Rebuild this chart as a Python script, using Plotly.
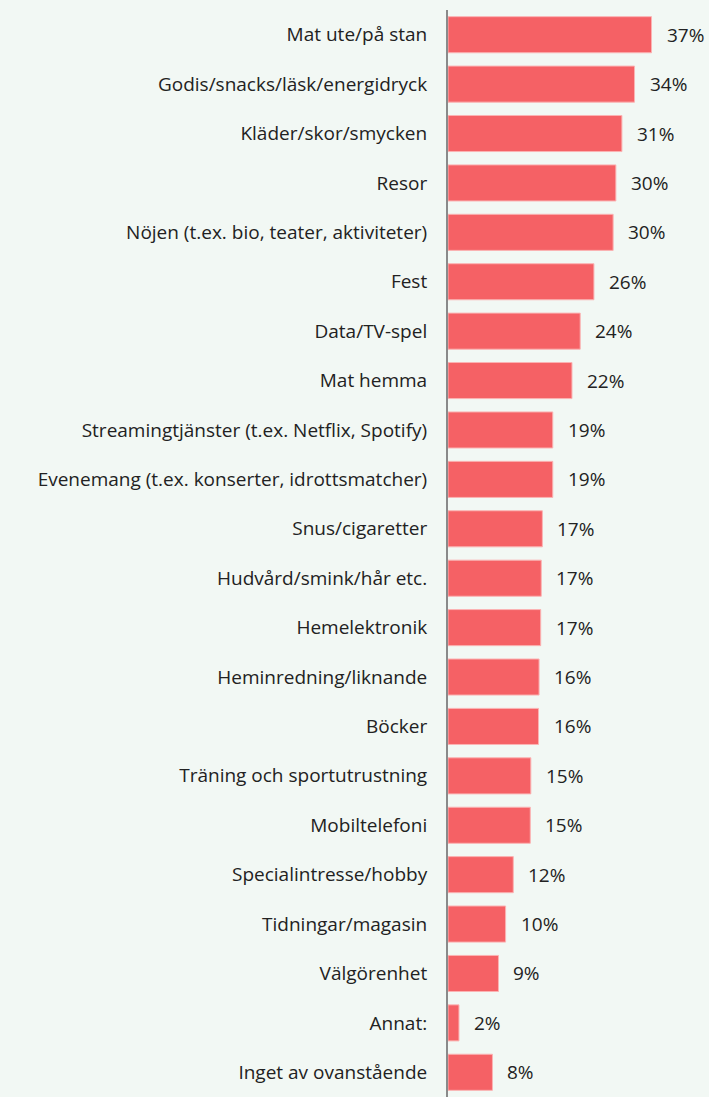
import plotly.graph_objects as go

categories = ["Mat ute/på stan", "Godis/snacks/läsk/energidryck", "Kläder/skor/smycken", "Resor",
              "Nöjen (t.ex. bio, teater, aktiviteter)", "Fest", "Data/TV-spel", "Mat hemma",
              "Streamingtjänster (t.ex. Netflix, Spotify)", "Evenemang (t.ex. konserter, idrottsmatcher)",
              "Snus/cigaretter", "Hudvård/smink/hår etc.", "Hemelektronik", "Heminredning/liknande",
              "Böcker", "Träning och sportutrustning", "Mobiltelefoni", "Specialintresse/hobby",
              "Tidningar/magasin", "Välgörenhet", "Annat:", "Inget av ovanstående"]
values = [37, 34, 31, 30, 30, 26, 24, 22, 19, 19, 17, 17, 17, 16, 16, 15, 15, 12, 10, 9, 2, 8]
# exact bar lengths (labels are rounded)
lengths = [37.1, 34.0, 31.7, 30.6, 30.1, 26.6, 24.1, 22.6, 19.1, 19.1, 17.2, 17.0, 16.9, 16.6, 16.5,
           15.1, 15.0, 11.9, 10.5, 9.2, 2.0, 8.1]

fig = go.Figure()
fig.add_trace(go.Bar(x=lengths, y=categories, orientation='h',
                     marker=dict(color='#f56165', line=dict(color='#fbb3b3', width=1))))

for c, v, l in zip(categories, values, lengths):
    fig.add_annotation(x=l, y=c, text=f"{v}%", showarrow=False, xanchor='left', xshift=13,
                       font=dict(size=19, color='#222222'))

fig.update_layout(width=709, height=1097, margin=dict(l=448, r=0, t=10, b=0),
                  paper_bgcolor='#f2f8f4', plot_bgcolor='#f2f8f4', showlegend=False, bargap=0.27,
                  font=dict(family='Open Sans', size=19, color='#222222'))
fig.update_xaxes(range=[0, 261 / 5.486], visible=False)
fig.update_yaxes(autorange='reversed', showline=True, linecolor='#8a8a8a', linewidth=2,
                 showgrid=False, ticks='', ticklabelstandoff=15)
# page body has a default 8px margin; drop it so the figure fills the window
fig.write_html("out.html", config={'displayModeBar': False},
               post_script="document.body.style.margin='0';")
